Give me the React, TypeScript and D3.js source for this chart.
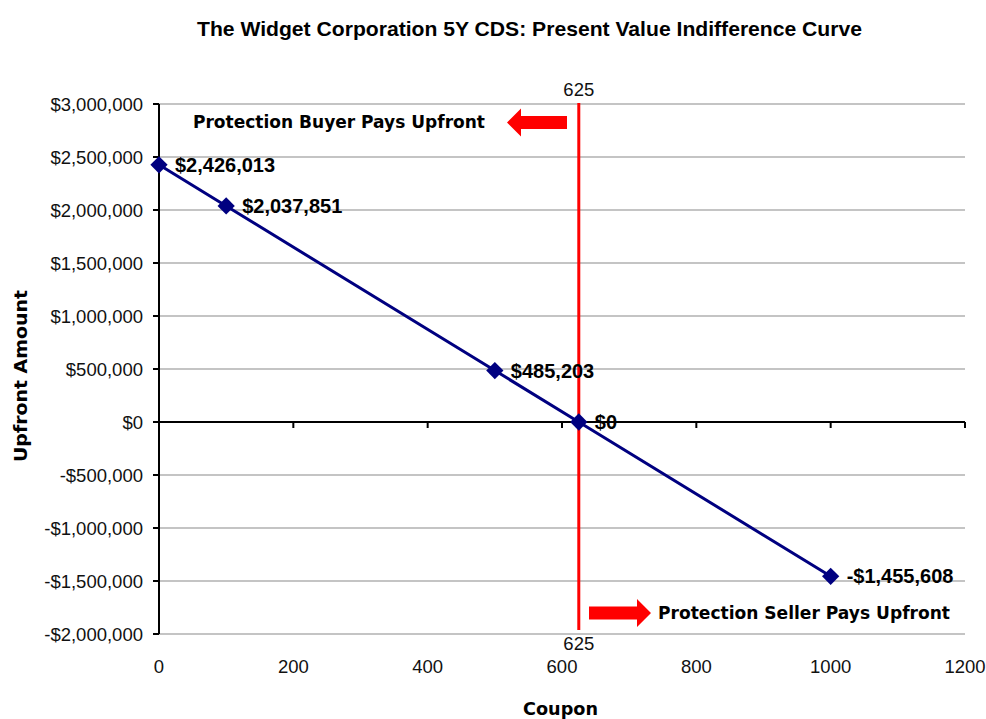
import React from "react";
import * as d3 from "d3";

const coupons = [0, 100, 500, 625, 1000];
const upfronts = [2426013, 2037851, 485203, 0, -1455608];
const pointLabels = ["$2,426,013", "$2,037,851", "$485,203", "$0", "-$1,455,608"];
const yTicks = [3000000, 2500000, 2000000, 1500000, 1000000, 500000, 0, -500000, -1000000, -1500000, -2000000];
const xTicks = [0, 200, 400, 600, 800, 1000, 1200];
const breakEven = 625;
const title = "The Widget Corporation 5Y CDS: Present Value Indifference Curve";
const buyerText = "Protection Buyer Pays Upfront";
const sellerText = "Protection Seller Pays Upfront";
const xTitle = "Coupon";
const yTitle = "Upfront Amount";

const W = 986, H = 719;
const left = 159, right = 965, top = 104, bottom = 634;
const sans = "'Liberation Sans', Arial, sans-serif";
const wide = "'DejaVu Sans', Verdana, Tahoma, sans-serif";

function fmtMoney(v: number) {
  const s = d3.format(",")(Math.abs(v));
  return (v < 0 ? "-$" : "$") + s;
}

export default function App() {
  const x = d3.scaleLinear().domain([0, 1200]).range([left, right]);
  const y = d3.scaleLinear().domain([-2000000, 3000000]).range([bottom, top]);
  const pts = coupons.map((c, i) => [c, upfronts[i]] as [number, number]);
  const line = d3.line<[number, number]>().x(d => x(d[0])).y(d => y(d[1]));
  const diamond = d3.symbol().type(d3.symbolDiamond2).size(190)();
  const y0 = y(0);
  const xb = x(breakEven);

  const leftArrow = (tipX: number, tailX: number, cy: number) =>
    `M${tipX},${cy} L${tipX + 14},${cy - 14} L${tipX + 14},${cy - 6.5} L${tailX},${cy - 6.5} L${tailX},${cy + 6.5} L${tipX + 14},${cy + 6.5} L${tipX + 14},${cy + 14} Z`;
  const rightArrow = (tailX: number, tipX: number, cy: number) =>
    `M${tipX},${cy} L${tipX - 14},${cy - 14} L${tipX - 14},${cy - 6.5} L${tailX},${cy - 6.5} L${tailX},${cy + 6.5} L${tipX - 14},${cy + 6.5} L${tipX - 14},${cy + 14} Z`;

  return (
    <svg width={W} height={H} style={{ position: "absolute", left: 0, top: 0, background: "#fff" }}>
      <rect width={W} height={H} fill="#fff" />
      <text x={529.5} y={36} textAnchor="middle" fontFamily={sans} fontWeight="bold" fontSize={21}
        textLength={665} lengthAdjust="spacingAndGlyphs">
        {title}
      </text>
      {/* gridlines */}
      {yTicks.map(t => (
        <line key={t} x1={left} x2={right} y1={y(t)} y2={y(t)} stroke="#c4c4c4" strokeWidth={2} />
      ))}
      {/* y axis */}
      <line x1={left} x2={left} y1={top} y2={bottom} stroke="#000" strokeWidth={2} />
      {yTicks.map(t => (
        <g key={"yt" + t}>
          <line x1={left - 6} x2={left} y1={y(t)} y2={y(t)} stroke="#000" strokeWidth={2} />
          <text x={143} y={y(t) + 7} textAnchor="end" fontFamily={sans} fontSize={18.5} fill="#111">
            {fmtMoney(t)}
          </text>
        </g>
      ))}
      {/* x axis at zero */}
      <line x1={left} x2={right} y1={y0} y2={y0} stroke="#000" strokeWidth={2} />
      {xTicks.map(t => (
        <g key={"xt" + t}>
          <line x1={x(t)} x2={x(t)} y1={y0} y2={y0 + 6} stroke="#000" strokeWidth={2} />
          <text x={x(t)} y={673} textAnchor="middle" fontFamily={sans} fontSize={18.5} fill="#111">
            {t}
          </text>
        </g>
      ))}
      {/* break-even line */}
      <line x1={xb} x2={xb} y1={top - 1} y2={bottom - 4} stroke="#ff0000" strokeWidth={3} />
      <text x={xb} y={96} textAnchor="middle" fontFamily={sans} fontSize={18.5} fill="#111">{breakEven}</text>
      <text x={xb} y={650} textAnchor="middle" fontFamily={sans} fontSize={18.5} fill="#111">{breakEven}</text>
      {/* series */}
      <path d={line(pts) || ""} fill="none" stroke="#000080" strokeWidth={3} />
      {pts.map((p, i) => (
        <g key={"p" + i}>
          <path d={diamond || ""} transform={`translate(${x(p[0])},${y(p[1])})`} fill="#000080" />
          <text x={x(p[0]) + 16} y={y(p[1]) + 7} fontFamily={sans} fontWeight="bold" fontSize={20} fill="#000">
            {pointLabels[i]}
          </text>
        </g>
      ))}
      {/* annotations */}
      <text x={193} y={128} fontFamily={wide} fontWeight="bold" fontSize={18} fill="#000"
        textLength={292} lengthAdjust="spacingAndGlyphs">{buyerText}</text>
      <path d={leftArrow(507, 567, 122.5)} fill="#ff0000" />
      <path d={rightArrow(589, 651, 613)} fill="#ff0000" />
      <text x={658} y={619} fontFamily={wide} fontWeight="bold" fontSize={18} fill="#000"
        textLength={292} lengthAdjust="spacingAndGlyphs">{sellerText}</text>
      {/* axis titles */}
      <text x={560.5} y={715} textAnchor="middle" fontFamily={wide} fontWeight="bold" fontSize={18} fill="#000"
        textLength={75} lengthAdjust="spacingAndGlyphs">{xTitle}</text>
      <text transform={`translate(27,376) rotate(-90)`} textAnchor="middle" fontFamily={wide} fontWeight="bold" fontSize={18} fill="#000"
        textLength={172} lengthAdjust="spacingAndGlyphs">{yTitle}</text>
    </svg>
  );
}
